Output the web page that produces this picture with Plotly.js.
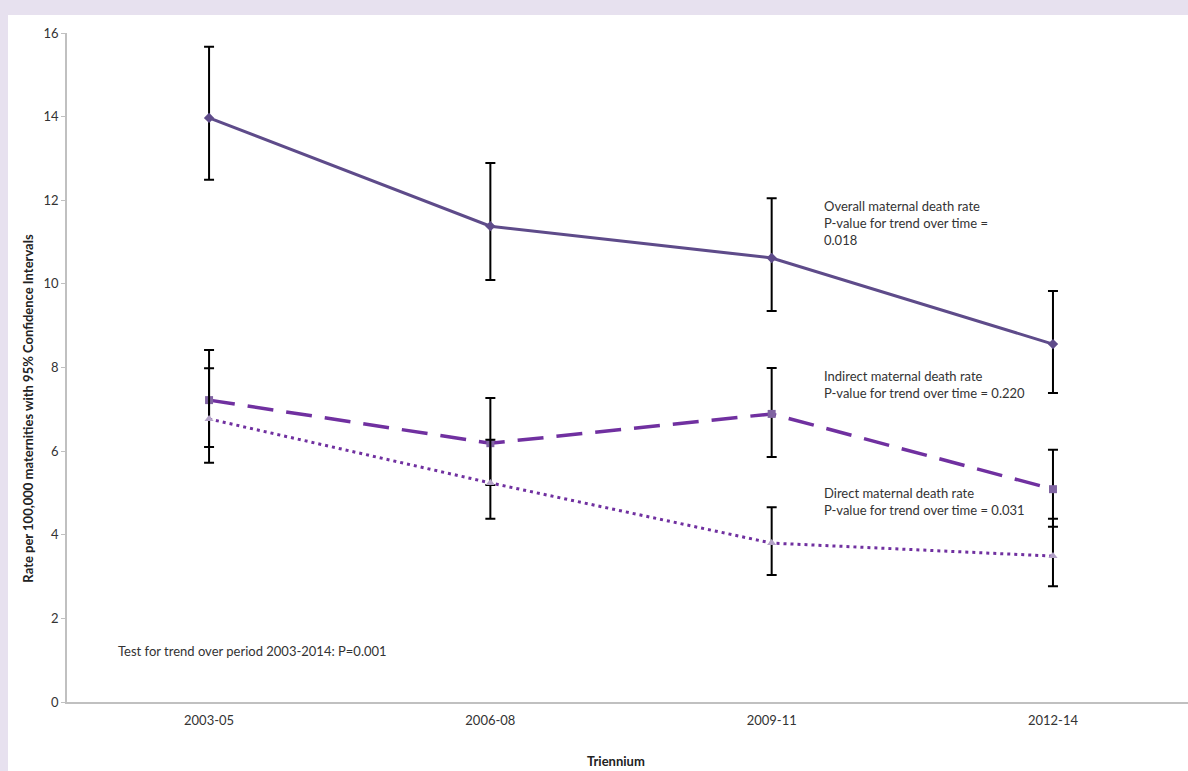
<!DOCTYPE html>
<html>
<head>
<meta charset="utf-8">
<script src="https://cdn.plot.ly/plotly-3.0.1.min.js"></script>
<style>
  html, body { margin: 0; padding: 0; width: 1188px; height: 771px; background: #E7E1EF; overflow: hidden; }
  #chart { position: absolute; left: 8px; top: 15px; width: 1180px; height: 756px; }
</style>
</head>
<body>
<div id="chart"></div>
<script>
const categories = ["2003-05", "2006-08", "2009-11", "2012-14"];

const overallRate  = [13.97, 11.38, 10.62, 8.56];
const overallUpper = [15.67, 12.89, 12.05, 9.83];
const overallLower = [12.49, 10.09, 9.35, 7.39];

const indirectRate  = [7.22, 6.19, 6.89, 5.09];
const indirectUpper = [8.42, 7.27, 7.99, 6.03];
const indirectLower = [6.10, 5.19, 5.86, 4.19];

const directRate  = [6.77, 5.24, 3.80, 3.49];
const directUpper = [7.98, 6.27, 4.66, 4.38];
const directLower = [5.72, 4.38, 3.04, 2.77];

const yTicks = [0, 2, 4, 6, 8, 10, 12, 14, 16];

const xTitle = "Triennium";
const yTitle = "Rate per 100,000 maternities with 95% Confidence Intervals";

const notes = [
  {text: "Overall maternal death rate<br>P-value for trend over time =<br>0.018", x: 2.18, y: 12.1},
  {text: "Indirect maternal death rate<br>P-value for trend over time = 0.220", x: 2.18, y: 8.03},
  {text: "Direct maternal death rate<br>P-value for trend over time = 0.031", x: 2.18, y: 5.23},
  {text: "Test for trend over period 2003-2014: P=0.001", x: -0.33, y: 1.45}
];

function err(rate, up, lo) {
  return {
    type: "data", symmetric: false,
    array: up.map((u, i) => u - rate[i]),
    arrayminus: lo.map((l, i) => rate[i] - l),
    color: "#000000", thickness: 2, width: 5
  };
}

const FONT = "Lato, 'Open Sans', sans-serif";

const traces = [
  {
    x: categories, y: overallRate, type: "scatter", mode: "lines+markers",
    name: "Overall",
    line: {color: "#5E4B8A", width: 3},
    marker: {symbol: "diamond", size: 8, color: "#5E4B8A"},
    error_y: err(overallRate, overallUpper, overallLower)
  },
  {
    x: categories, y: indirectRate, type: "scatter", mode: "lines+markers",
    name: "Indirect",
    line: {color: "#7030A0", width: 3.5, dash: "26px,13px"},
    marker: {symbol: "square", size: 8, color: "#8064A2"},
    error_y: err(indirectRate, indirectUpper, indirectLower)
  },
  {
    x: categories, y: directRate, type: "scatter", mode: "lines+markers",
    name: "Direct",
    line: {color: "#7030A0", width: 3, dash: "3px,4px"},
    marker: {symbol: "triangle-up", size: 8, color: "#B3A2C7"},
    error_y: err(directRate, directUpper, directLower)
  }
];

const noteAnns = notes.map(n => ({
  text: n.text, x: n.x, y: n.y, xref: "x", yref: "y",
  xanchor: "left", yanchor: "top", align: "left", showarrow: false,
  font: {family: FONT, size: 13, color: "#333333"}
}));

const titleAnns = [
  {
    text: "<b>" + xTitle + "</b>", xref: "paper", yref: "paper",
    x: 0.49, y: -0.088, xanchor: "center", yanchor: "middle", showarrow: false,
    font: {family: FONT, size: 13, color: "#222222"}
  },
  {
    text: "<b>" + yTitle + "</b>", xref: "paper", yref: "paper",
    x: -0.0348, y: 0.44, xanchor: "center", yanchor: "middle", showarrow: false,
    textangle: -90,
    font: {family: FONT, size: 13, color: "#222222"}
  }
];

const layout = {
  width: 1180, height: 756,
  margin: {l: 59, r: 0, t: 18, b: 69},
  paper_bgcolor: "#FFFFFF",
  plot_bgcolor: "#FFFFFF",
  showlegend: false,
  font: {family: FONT, size: 13, color: "#333333"},
  xaxis: {
    type: "category",
    range: [-0.505, 3.48],
    showgrid: false, zeroline: false,
    showline: true, linecolor: "#C0C0C0", linewidth: 1.5,
    ticks: "", ticklabelstandoff: 6,
    tickfont: {family: FONT, size: 13, color: "#333333"}
  },
  yaxis: {
    range: [0, 16],
    tickvals: yTicks,
    ticktext: yTicks.map(String),
    showgrid: false, zeroline: false,
    showline: true, linecolor: "#C0C0C0", linewidth: 1.5,
    ticks: "outside", ticklen: 4, tickcolor: "#C0C0C0",
    tickfont: {family: FONT, size: 13, color: "#333333"}
  },
  annotations: noteAnns.concat(titleAnns)
};

Plotly.newPlot("chart", traces, layout, {displayModeBar: false});
</script>
</body>
</html>
